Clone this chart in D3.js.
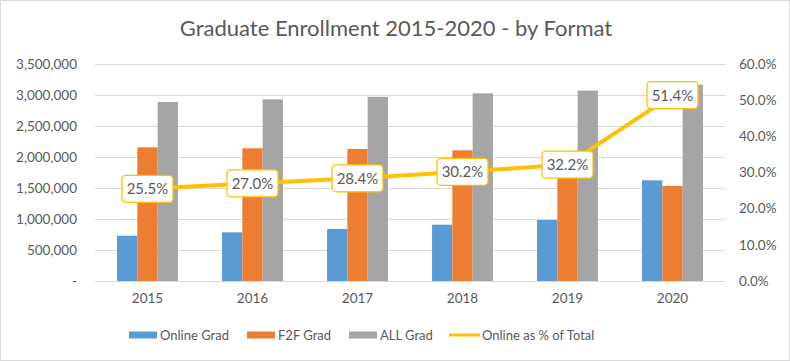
<!DOCTYPE html>
<html><head><meta charset="utf-8">
<script src="https://cdn.jsdelivr.net/npm/d3@7"></script>
<style>body{margin:0;background:#fff;} svg{display:block;font-family:Lato, "Open Sans", sans-serif;}</style>
</head><body><svg id="c" width="790" height="361"></svg>
<script>
const years = ["2015","2016","2017","2018","2019","2020"];
const onlineGrad = [730000, 785000, 839000, 908000, 984000, 1624000];
const f2fGrad = [2156000, 2140000, 2130000, 2108000, 2085000, 1532000];
const allGrad = [2887000, 2930000, 2970000, 3027000, 3070000, 3166000];
const onlinePct = [25.5, 27.0, 28.4, 30.2, 32.2, 51.4];
const leftTicks = [0, 500000, 1000000, 1500000, 2000000, 2500000, 3000000, 3500000];
const rightTicks = [0, 10, 20, 30, 40, 50, 60];
const seriesNames = ["Online Grad", "F2F Grad", "ALL Grad", "Online as % of Total"];
const colors = ["#5B9BD5", "#ED7D31", "#A5A5A5", "#FFC000"];

const svg = d3.select("#c");
const W = 790, H = 361;
const m = {left: 95, right: 725, top: 64, bottom: 281};
svg.append("rect").attr("x",0.5).attr("y",0.5).attr("width",W-1).attr("height",H-1)
  .attr("fill","#fff").attr("stroke","#D9D9D9");

const x = d3.scaleBand().domain(years).range([m.left, m.right]);
const y = d3.scaleLinear().domain([0, 3500000]).range([m.bottom, m.top]);
const y2 = d3.scaleLinear().domain([0, 60]).range([m.bottom, m.top]);

// gridlines
svg.append("g").selectAll("line").data(leftTicks).join("line")
  .attr("x1", m.left).attr("x2", m.right)
  .attr("y1", d => Math.round(y(d))+0.5).attr("y2", d => Math.round(y(d))+0.5)
  .attr("stroke", "#D9D9D9").attr("stroke-width", 1);

// left axis
const fmt = d3.format(",");
const yAxis = d3.axisLeft(y).tickValues(leftTicks).tickSize(0).tickPadding(18)
  .tickFormat(d => d === 0 ? "-      " : fmt(d));
const ga = svg.append("g").attr("transform", `translate(${m.left},0)`).call(yAxis);
ga.select(".domain").remove();
ga.selectAll("text").attr("fill","#595959").style("font-size","13.5px").style("font-family","Lato, sans-serif");

const y2Axis = d3.axisRight(y2).tickValues(rightTicks).tickSize(0).tickPadding(14)
  .tickFormat(d => d.toFixed(1) + "%");
const gb = svg.append("g").attr("transform", `translate(${m.right},0)`).call(y2Axis);
gb.select(".domain").remove();
gb.selectAll("text").attr("fill","#595959").style("font-size","13.5px").style("font-family","Lato, sans-serif");

const xAxis = d3.axisBottom(x).tickSize(0).tickPadding(12);
const gx = svg.append("g").attr("transform", `translate(0,${m.bottom})`).call(xAxis);
gx.select(".domain").remove();
gx.selectAll("text").attr("fill","#595959").style("font-size","13.5px").style("font-family","Lato, sans-serif");

// bars
const barW = 20.3;
const series = [onlineGrad, f2fGrad, allGrad];
const inner = d3.scaleBand().domain([0,1,2]).range([-barW*1.5, barW*1.5]);
series.forEach((vals, si) => {
  svg.append("g").selectAll("rect").data(years).join("rect")
    .attr("x", (d) => x(d) + x.bandwidth()/2 + inner(si))
    .attr("width", inner.bandwidth())
    .attr("y", (d,i) => y(vals[i]))
    .attr("height", (d,i) => y(0) - y(vals[i]))
    .attr("fill", colors[si]);
});

// line
const line = d3.line().x((d,i) => x(years[i]) + x.bandwidth()/2).y(d => y2(d));
svg.append("path").datum(onlinePct).attr("d", line).attr("fill","none")
  .attr("stroke", colors[3]).attr("stroke-width", 4).attr("stroke-linejoin","round");

// data labels
const lg = svg.append("g").selectAll("g").data(onlinePct).join("g")
  .attr("transform", (d,i) => `translate(${x(years[i]) + x.bandwidth()/2},${y2(d)})`);
lg.append("rect").attr("x",-25.5).attr("y",-13.5).attr("width",51).attr("height",27)
  .attr("rx",4).attr("fill","#fff").attr("stroke",colors[3]).attr("stroke-width",1.3);
lg.append("text").attr("text-anchor","middle").attr("dy","0.36em")
  .attr("fill","#595959").style("font-size","15px").text(d => d.toFixed(1) + "%");

// title
svg.append("text").attr("x", 396).attr("y", 36).attr("text-anchor","middle")
  .attr("fill","#595959").style("font-size","22px").text("Graduate Enrollment 2015-2020 - by Format");

// legend
const legX = [129, 247, 349, 449];
const leg = svg.append("g").selectAll("g").data(seriesNames).join("g")
  .attr("transform", (d,i) => `translate(${legX[i]},335)`);
leg.each(function(d,i){
  const g = d3.select(this);
  if (i < 3) g.append("rect").attr("x",0).attr("y",-3.5).attr("width",28).attr("height",7).attr("fill",colors[i]);
  else g.append("line").attr("x1",0).attr("x2",31).attr("y1",0).attr("y2",0).attr("stroke",colors[3]).attr("stroke-width",3);
  g.append("text").attr("x", i < 3 ? 31 : 33).attr("dy","0.36em").attr("fill","#595959")
    .style("font-size","13px").text(d);
});
</script></body></html>
